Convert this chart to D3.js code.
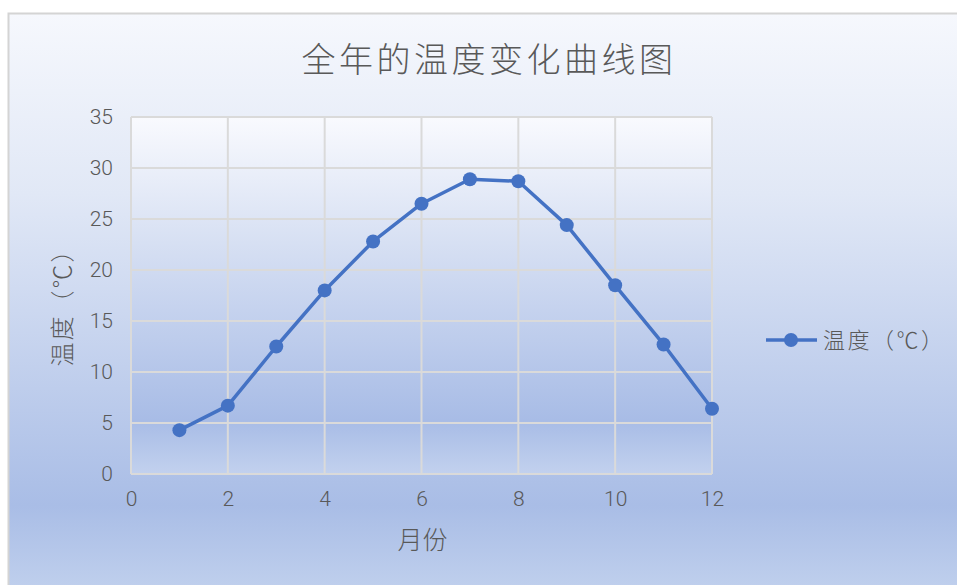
<!DOCTYPE html>
<html><head><meta charset="utf-8">
<script src="https://cdn.jsdelivr.net/npm/d3@7"></script>
<style>html,body{margin:0;padding:0;background:#fff;}svg{display:block;}</style>
</head><body>
<svg id="c" width="957" height="585"></svg>
<script>
const months = [1,2,3,4,5,6,7,8,9,10,11,12];
const temps = [4.3,6.7,12.5,18.0,22.8,26.5,28.9,28.7,24.4,18.5,12.7,6.4];
const xTicks = [0,2,4,6,8,10,12];
const yTicks = [0,5,10,15,20,25,30,35];
const title = "全年的温度变化曲线图";
const seriesName = "温度（℃）";
const xTitle = "月份";
const yTitle = "温度（℃）";

const svg = d3.select("#c");
const font = "'Noto Sans CJK SC','Noto Sans',sans-serif";
const numFont = "Roboto,'Noto Sans',sans-serif";
const defs = svg.append("defs");
const g1 = defs.append("linearGradient").attr("id","bg").attr("x1",0).attr("y1",0).attr("x2",0).attr("y2",1);
g1.append("stop").attr("offset","0%").attr("stop-color","#f6f8fd");
g1.append("stop").attr("offset","30%").attr("stop-color","#e1e8f6");
g1.append("stop").attr("offset","82%").attr("stop-color","#a9bde6");
g1.append("stop").attr("offset","100%").attr("stop-color","#c6d5ef");
const g2 = defs.append("linearGradient").attr("id","pa").attr("x1",0).attr("y1",0).attr("x2",0).attr("y2",1);
g2.append("stop").attr("offset","0%").attr("stop-color","#f9fafe");
g2.append("stop").attr("offset","35%").attr("stop-color","#d7e0f3");
g2.append("stop").attr("offset","85%").attr("stop-color","#a8bce6");
g2.append("stop").attr("offset","100%").attr("stop-color","#c2d1ee");

svg.append("rect").attr("x",8.5).attr("y",13.5).attr("width",960).attr("height",600)
  .attr("fill","url(#bg)").attr("stroke","#d4d4d4").attr("stroke-width",2);

const L=131, R=712, T=117, B=474;
const x = d3.scaleLinear().domain([0,12]).range([L,R]);
const y = d3.scaleLinear().domain([0,35]).range([B,T]);

svg.append("rect").attr("x",L).attr("y",T).attr("width",R-L).attr("height",B-T).attr("fill","url(#pa)");

// gridlines
svg.append("g").selectAll("line").data(yTicks).join("line")
  .attr("x1",L).attr("x2",R).attr("y1",d=>y(d)).attr("y2",d=>y(d))
  .attr("stroke","#dadada").attr("stroke-width",2);
svg.append("g").selectAll("line").data(xTicks).join("line")
  .attr("x1",d=>x(d)).attr("x2",d=>x(d)).attr("y1",T).attr("y2",B)
  .attr("stroke","#dadada").attr("stroke-width",2);

// axes
const yAxis = d3.axisLeft(y).tickValues(yTicks).tickSize(0).tickPadding(18);
const ya = svg.append("g").attr("transform",`translate(${L},0)`).call(yAxis);
ya.select(".domain").remove();
ya.selectAll("text").attr("font-family",numFont).attr("font-weight",300).attr("font-size",21).attr("fill","#595959");
const xAxis = d3.axisBottom(x).tickValues(xTicks).tickSize(0).tickPadding(17);
const xa = svg.append("g").attr("transform",`translate(0,${B})`).call(xAxis);
xa.select(".domain").remove();
xa.selectAll("text").attr("font-family",numFont).attr("font-weight",300).attr("font-size",21).attr("fill","#595959");

// line
const line = d3.line().x((d,i)=>x(months[i])).y(d=>y(d));
svg.append("path").datum(temps).attr("d",line).attr("fill","none")
  .attr("stroke","#4472c4").attr("stroke-width",3.5).attr("stroke-linejoin","round");
svg.append("g").selectAll("circle").data(temps).join("circle")
  .attr("cx",(d,i)=>x(months[i])).attr("cy",d=>y(d)).attr("r",7).attr("fill","#4472c4");

// title
svg.append("text").attr("x",489).attr("y",72).attr("text-anchor","middle")
  .attr("font-family",font).attr("font-size",34).attr("font-weight",300).attr("fill","#595959")
  .attr("letter-spacing",3.5).text(title);
// axis titles
svg.append("text").attr("x",(L+R)/2+1).attr("y",549).attr("text-anchor","middle")
  .attr("font-family",font).attr("font-size",25).attr("font-weight",300).attr("fill","#595959").text(xTitle);
svg.append("text").attr("transform",`translate(71,${(T+B)/2+6}) rotate(-90)`).attr("text-anchor","middle")
  .attr("font-family",font).attr("font-size",24).attr("font-weight",300).attr("fill","#595959")
  .attr("letter-spacing",2).text(yTitle);

// legend
const lg = svg.append("g");
lg.append("line").attr("x1",766).attr("x2",817).attr("y1",340).attr("y2",340).attr("stroke","#4472c4").attr("stroke-width",3.5);
lg.append("circle").attr("cx",791).attr("cy",340).attr("r",7).attr("fill","#4472c4");
lg.append("text").attr("x",823).attr("y",348).attr("font-family",font).attr("font-size",22).attr("font-weight",300).attr("fill","#595959")
  .attr("letter-spacing",2.5).text(seriesName);
</script>
</body></html>
